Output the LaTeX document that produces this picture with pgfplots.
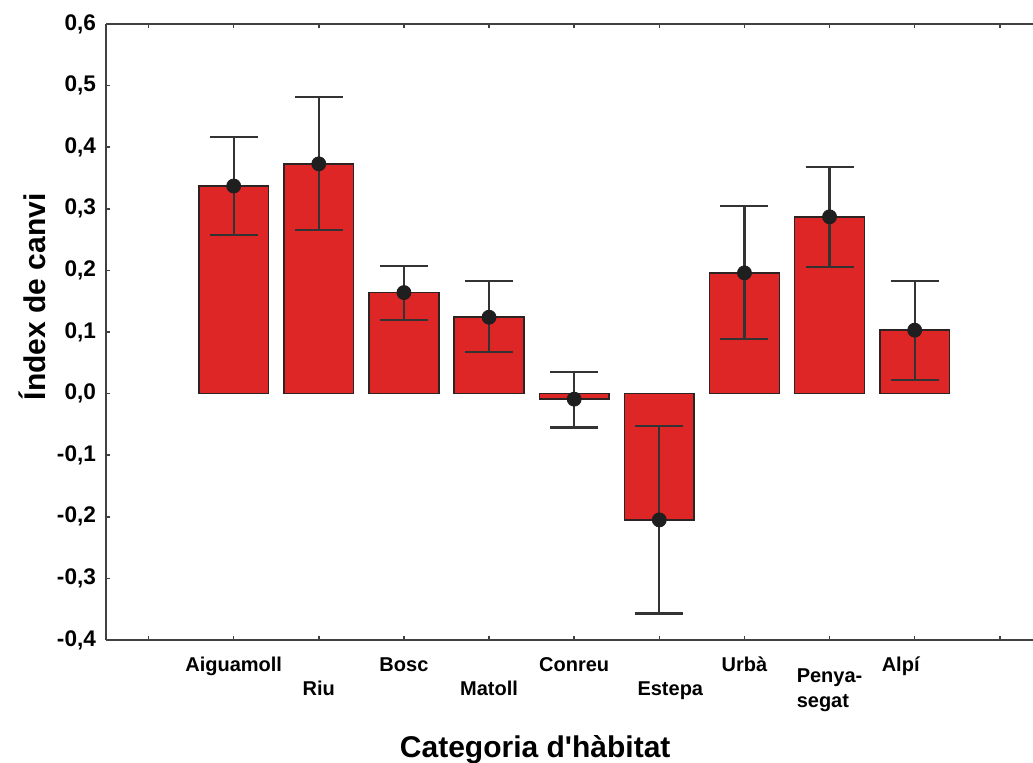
\documentclass[border=0pt]{standalone}
\usepackage{fontspec}
\setmainfont{Liberation Sans}
\usepackage{pgfplots}
\pgfplotsset{compat=1.18}
\definecolor{barred}{RGB}{222,38,38}
\definecolor{edge}{RGB}{45,35,35}
\definecolor{spine}{RGB}{65,65,65}

\begin{document}
\begin{tikzpicture}
\path[use as bounding box] (-53pt,-61pt) rectangle (463.5pt,320pt);
\begin{axis}[
    at={(0,0)}, anchor=south west,
    scale only axis,
    width=463.5pt, height=308pt,
    xmin=-0.5, xmax=10.39,
    ymin=-0.4, ymax=0.6,
    axis x line*=box, axis y line*=left,
    axis line style={spine, line width=1pt},
    tick align=inside,
    major tick length=2.2pt,
    tick style={spine, line width=0.8pt},
    xtick={0,1,2,3,4,5,6,7,8,9,10},
    xticklabels={,Aiguamoll,\raisebox{-12pt}{Riu},Bosc,\raisebox{-12pt}{Matoll},Conreu,\raisebox{-12pt}{\hspace*{11pt}Estepa},Urbà,\raisebox{-18pt}{\shortstack[l]{Penya-\\[1pt]segat}},Alpí\hspace*{14pt},},
    xticklabel style={anchor=base, yshift=-15.9pt, font=\fontsize{10}{12}\selectfont\bfseries},
    ytick={-0.4,-0.3,-0.2,-0.1,0,0.1,0.2,0.3,0.4,0.5,0.6},
    yticklabel style={font=\fontsize{11.3}{13}\selectfont\bfseries, xshift=-1.5pt,
        /pgf/number format/.cd, fixed, fixed zerofill, precision=1, use comma, assume math mode=true},
    xlabel={Categoria d\textquotesingle hàbitat},
    xlabel style={at={(axis description cs:0.463,0)}, anchor=base, yshift=-58.5pt,
        font=\fontsize{15}{18}\selectfont\bfseries},
    ylabel={Índex de canvi},
    ylabel style={at={(axis description cs:-0.0658,0.557)}, anchor=base,
        font=\fontsize{15}{18}\selectfont\bfseries},
    clip=false,
]
% bars (means)
\addplot[ybar, bar width=34.85pt, fill=barred, draw=edge, line width=0.75pt]
    coordinates {
    (1,0.337) (2,0.373) (3,0.164) (4,0.124) (5,-0.009)
    (6,-0.205) (7,0.196) (8,0.287) (9,0.103)
    };
% means with asymmetric error bars
\addplot[only marks, mark=*, mark size=3.5pt, color=black!88,
    error bars/.cd, y dir=both, y explicit,
    error bar style={line width=1.1pt, color=black!80},
    error mark options={rotate=90, mark size=12pt, line width=1.1pt, color=black!80}]
    coordinates {
    (1,0.337) += (0,0.079) -= (0,0.079)
    (2,0.373) += (0,0.109) -= (0,0.107)
    (3,0.164) += (0,0.043) -= (0,0.045)
    (4,0.124) += (0,0.059) -= (0,0.056)
    (5,-0.009) += (0,0.044) -= (0,0.046)
    (6,-0.205) += (0,0.152) -= (0,0.152)
    (7,0.196) += (0,0.108) -= (0,0.108)
    (8,0.287) += (0,0.081) -= (0,0.082)
    (9,0.103) += (0,0.080) -= (0,0.081)
    };
\end{axis}
\end{tikzpicture}
\end{document}
